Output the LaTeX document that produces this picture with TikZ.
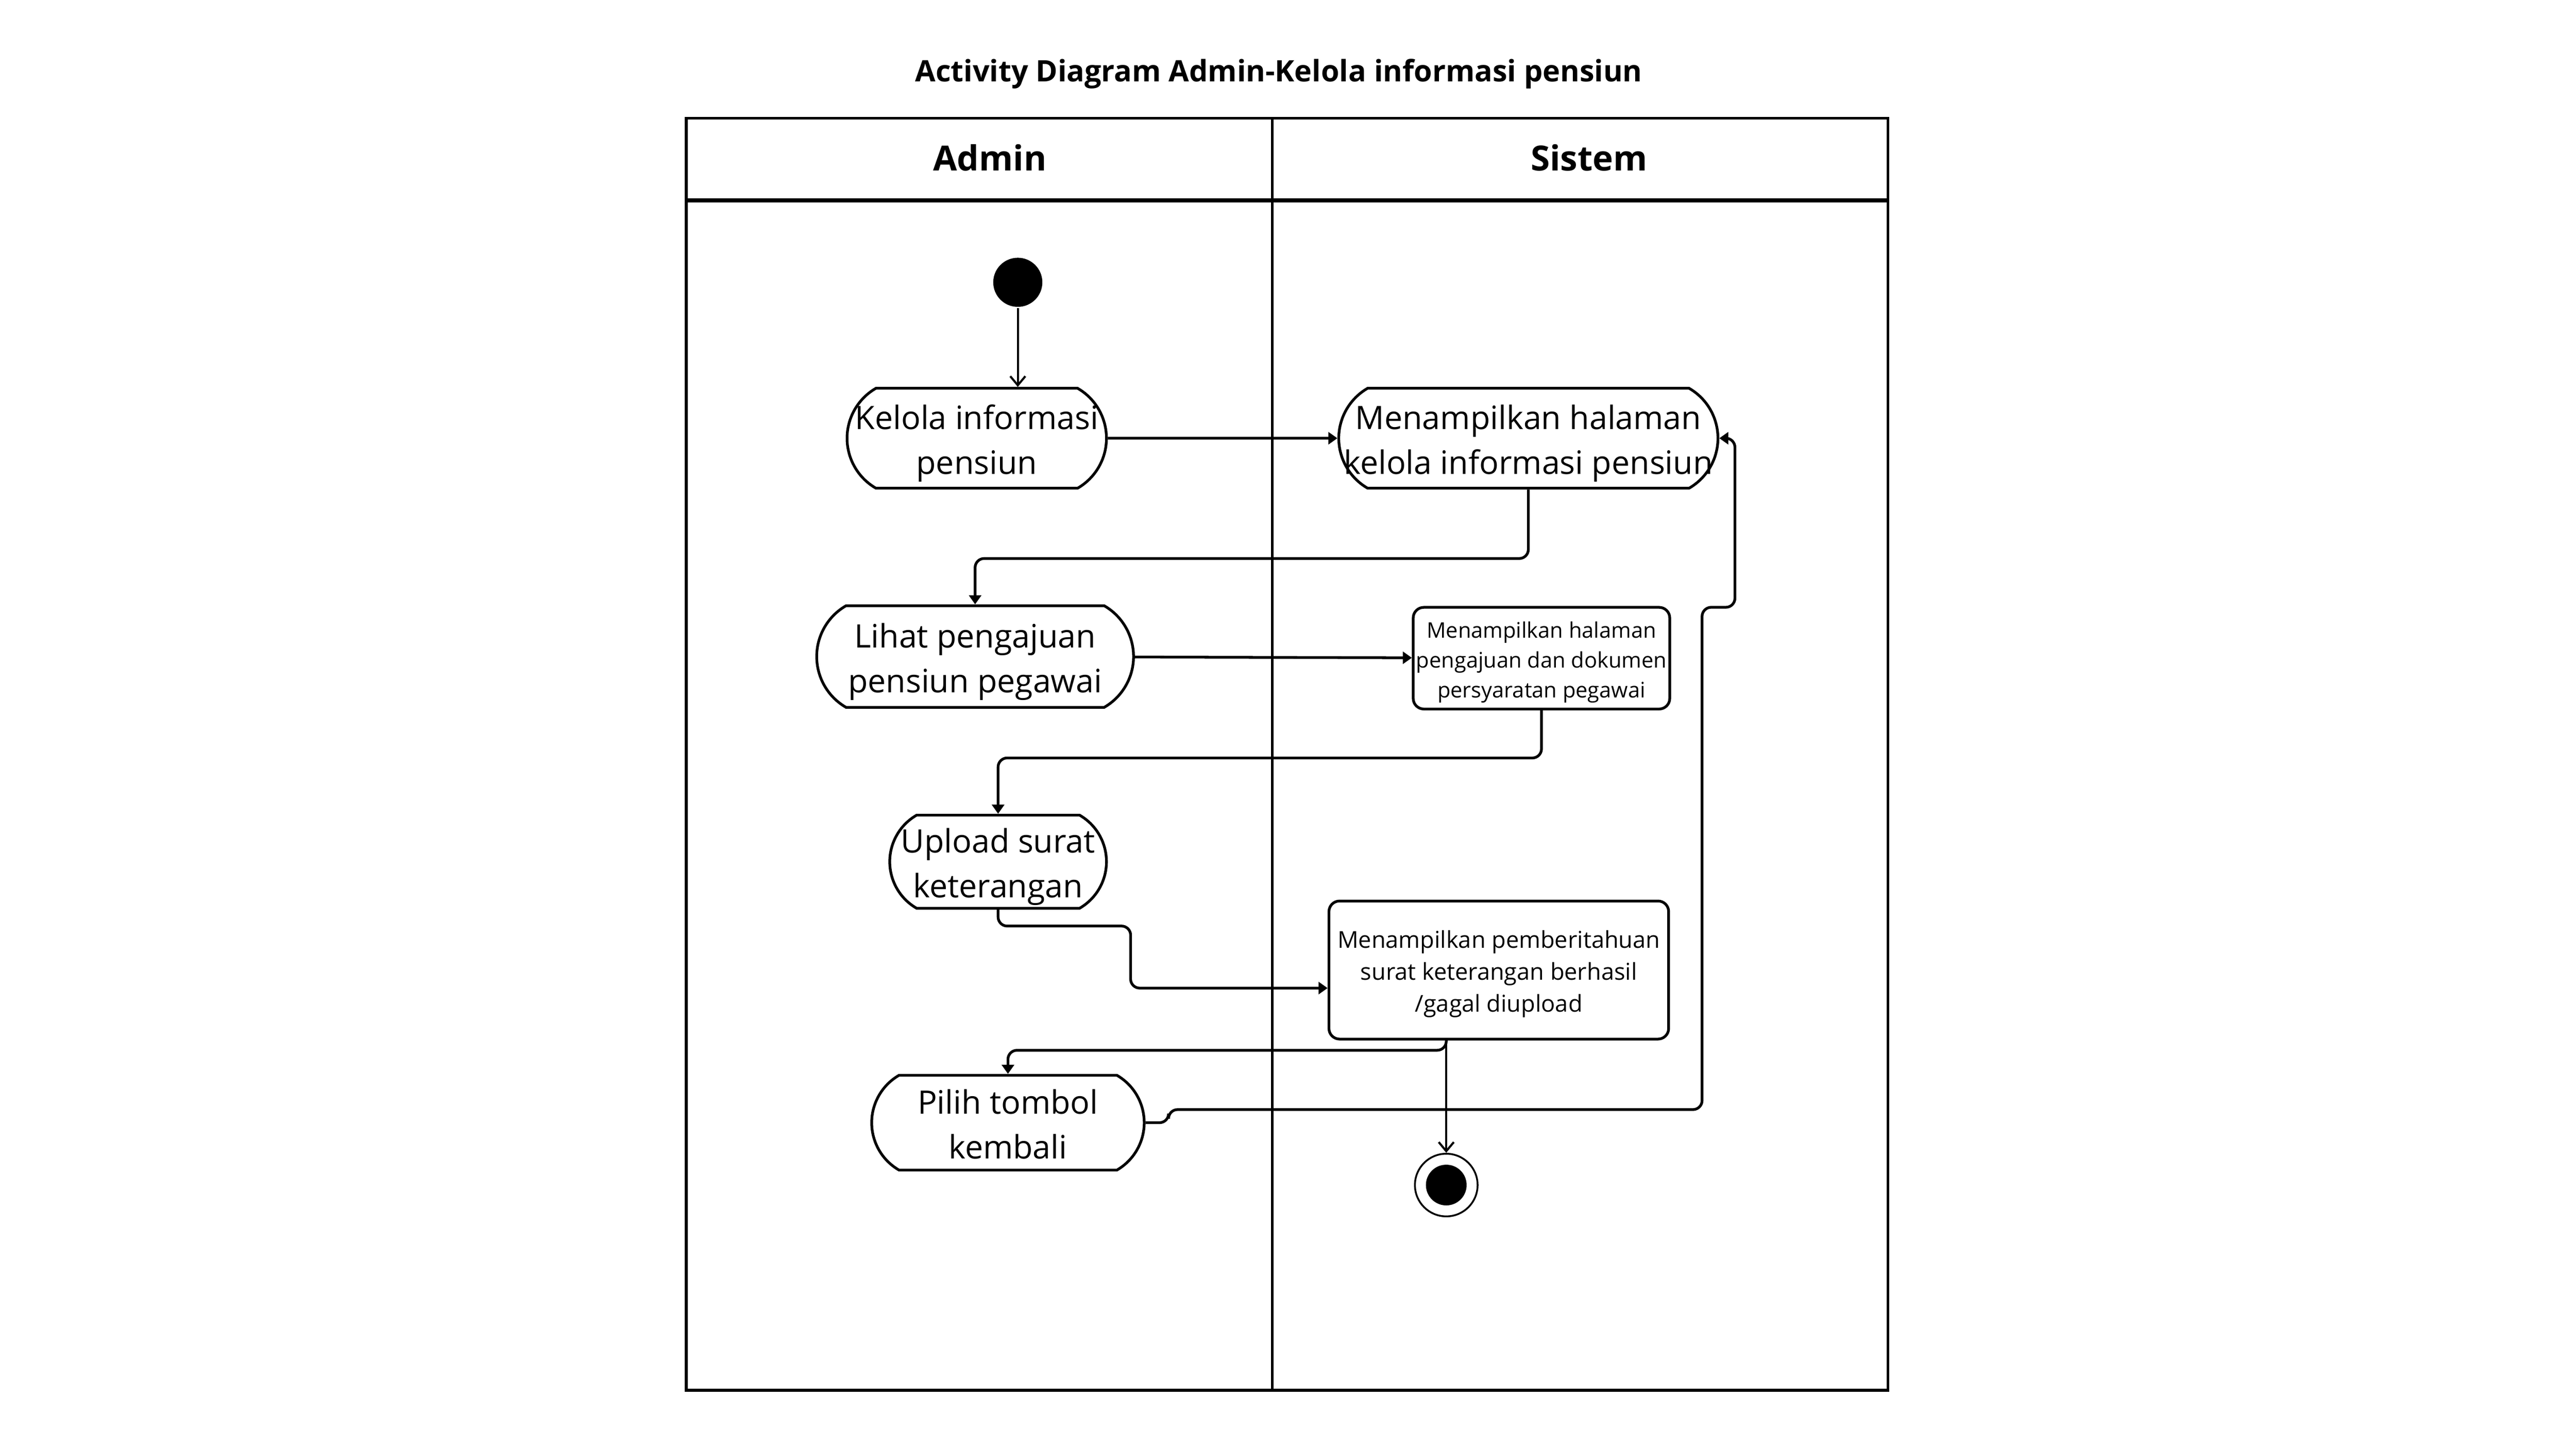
\documentclass[tikz,border=0pt]{standalone}
\usepackage{fontspec}
\setmainfont{Open Sans}
\usetikzlibrary{shapes.misc,arrows.meta,positioning,calc}
\newcommand{\actlines}[1]{\raisebox{-1.5pt}[\height][\depth]{\makebox[0pt]{\begin{tabular}{@{}c@{}}#1\end{tabular}}}}
\newcommand{\syslines}[1]{\raisebox{-1.2pt}[\height][\depth]{\begin{tabular}{@{}c@{}}#1\end{tabular}}}

\begin{document}
\begin{tikzpicture}[x=0.019118cm,y=-0.019118cm,
        line width=0.9pt,
        every node/.style={align=center},
        act/.style={draw,rounded rectangle,rounded rectangle arc length=120,inner xsep=0pt,inner ysep=0pt,font=\fontsize{10.7}{14.9}\selectfont},
        sysbox/.style={draw,rectangle,rounded corners=3.5pt,inner sep=1pt},
        lane/.style={font=\bfseries\fontsize{11.5}{14}\selectfont},
        flow/.style={-{Triangle[length=3pt,width=4pt]},rounded corners=3pt},
        barb/.style={-{Straight Barb[length=3pt,width=5pt]},line width=0.7pt}
        ]
        \useasboundingbox (0,0) rectangle (1569.2,882.7);

        % the title and the lanes
        \node[font=\bfseries\fontsize{9.8}{12}\selectfont] (title) at (779,45) {Activity Diagram Admin-Kelola informasi pensiun};
        \draw (418,72) rectangle (1150,847);
        \draw[line width=1.3pt] (418,122) -- (1150,122);
        \draw (775,72) -- (775,847);
        \node[lane] (admin) at (603,96) {Admin};
        \node[lane] (sistem) at (968,96) {Sistem};

        % the actions of Admin
        \node[fill,circle,minimum size=0.572cm,inner sep=0pt] (start) at (620,172) {};
        \node[act,minimum width=3.021cm,minimum height=1.164cm] (a1) at (595,267) {\actlines{Kelola informasi\\pensiun}};
        \node[act,minimum width=3.69cm,minimum height=1.184cm] (a2) at (594,400) {\actlines{Lihat pengajuan\\pensiun pegawai}};
        \node[act,minimum width=2.524cm,minimum height=1.085cm] (a3) at (608,525) {\actlines{Upload surat\\keterangan}};
        \node[act,minimum width=3.174cm,minimum height=1.105cm] (a4) at (614,684) {\actlines{Pilih tombol\\kembali}};

        % the actions of Sistem
        \node[act,minimum width=4.416cm,minimum height=1.164cm] (s1) at (931,267) {\actlines{Menampilkan halaman\\kelola informasi pensiun}};
        \node[sysbox,minimum width=2.96cm,minimum height=1.184cm,font=\fontsize{7.1}{9.9}\selectfont] (s2) at (939,401) {\syslines{Menampilkan halaman\\pengajuan dan dokumen\\persyaratan pegawai}};
        \node[sysbox,minimum width=3.956cm,minimum height=1.608cm,font=\fontsize{7.7}{10.5}\selectfont] (s3) at (913,591) {\syslines{Menampilkan pemberitahuan\\surat keterangan berhasil\\/gagal diupload}};
        \node[draw,circle,line width=0.6pt,minimum size=0.73cm,inner sep=0pt,
            path picture={\fill (path picture bounding box.center) circle (0.237cm);}] (stop) at (881,722) {};

        % the flows
        \draw[barb] (start) -- (start |- a1.north);
        \draw[flow] (a1) -- (s1);
        \draw[flow] (s1.south) -- ++(0,42) -| (a2.north);
        \draw[flow] (a2) -- (s2);
        \draw[flow] (s2.south) -- ++(0,29) -| (a3.north);
        \draw[flow] (a3.south) -- ++(0,10) -| ($(s3.west)+(-120,11)$) -- ($(s3.west)+(0,11)$);
        \draw[flow] (stop |- s3.south) -- ++(0,6) -| (a4.north);
        \draw[barb] (stop |- s3.south) -- (stop);
        \draw[flow] (a4.east) -- ++(14,0) -- ++(0,-8) -- ++(325,0) -- ++(0,-306) -- ++(20,0) |- (s1.east);
\end{tikzpicture}
\end{document}
